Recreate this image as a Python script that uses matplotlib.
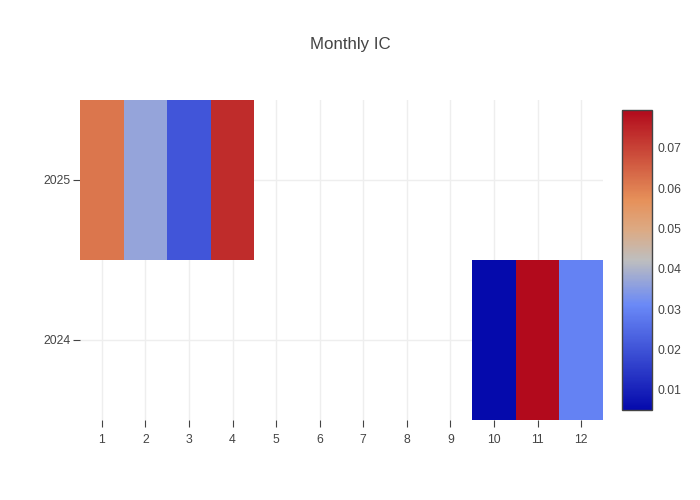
import numpy as np
import matplotlib
matplotlib.use("Agg")
import matplotlib.pyplot as plt
from matplotlib.colors import LinearSegmentedColormap

plt.rcParams['font.family'] = ['Liberation Sans', 'DejaVu Sans']

# data
months = list(range(1, 13))
years = [2024, 2025]
ic_2024 = [None, None, None, None, None, None, None, None, None, 0.0050, 0.0794, 0.0296]
ic_2025 = [0.0616, 0.0368, 0.0206, 0.0736, None, None, None, None, None, None, None, None]

# plotly-like RdBu scale (low = blue)
stops = [(0.0, (5, 10, 172)), (0.35, (106, 137, 247)), (0.5, (190, 190, 190)),
         (0.6, (220, 170, 132)), (0.7, (230, 145, 90)), (1.0, (178, 10, 28))]
cmap = LinearSegmentedColormap.from_list(
    "rdbu", [(p, tuple(c / 255 for c in rgb)) for p, rgb in stops])

z = np.array([[np.nan if v is None else v for v in row] for row in (ic_2024, ic_2025)])
z = np.ma.masked_invalid(z)

fig = plt.figure(figsize=(7, 5), dpi=100)
ax = fig.add_axes([80 / 700, 80 / 500, 523 / 700, 320 / 500])

xe = np.arange(0.5, 13.5, 1)
ye = np.array([years[0] - 0.5, years[0] + 0.5, years[1] + 0.5])
mesh = ax.pcolormesh(xe, ye, z, cmap=cmap, vmin=np.nanmin(z), vmax=np.nanmax(z), zorder=2)

ax.set_xlim(0.5, 12.5)
ax.set_ylim(ye[0], ye[-1])
ax.set_xticks(months)
ax.set_yticks(years)
ax.grid(True, color='#eeeeee', linewidth=1, zorder=0)
ax.set_axisbelow(True)
for s in ax.spines.values():
    s.set_visible(False)
ax.tick_params(axis='both', colors='#444444', labelsize=8.8, length=5, width=0.8)
ax.tick_params(axis='x', pad=5)
ax.tick_params(axis='y', pad=2)
for t in ax.get_xticklines() + ax.get_yticklines():
    t.set_color('#888888')

fig.suptitle("Monthly IC", x=0.5, y=1 - 44 / 500, va='center', fontsize=12.2, color='#444444')

cax = fig.add_axes([622 / 700, 90 / 500, 30 / 700, 300 / 500])
cb = fig.colorbar(mesh, cax=cax)
cb.set_ticks([0.01, 0.02, 0.03, 0.04, 0.05, 0.06, 0.07])
cb.ax.tick_params(length=0, labelsize=8.8, colors='#444444', pad=4)
cb.outline.set_edgecolor('#444444')
cb.outline.set_linewidth(1)

fig.savefig("out.png", dpi=100)
